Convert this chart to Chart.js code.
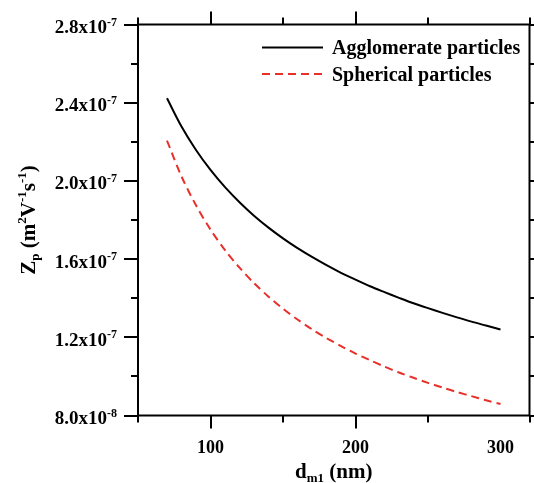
<!DOCTYPE html>
<html>
<head>
<meta charset="utf-8">
<script src="https://cdn.jsdelivr.net/npm/chart.js@4.4.1/dist/chart.umd.min.js"></script>
<style>
html,body{margin:0;padding:0;background:#fff;}
canvas{display:block;}
</style>
</head>
<body>
<canvas id="c" width="534" height="483"></canvas>
<script>
// Data
const diameters = [70,80,90,100,110,120,130,140,150,160,170,180,190,200,210,220,230,240,250,260,270,280,290,300];
const agglomerate = [2.4225,2.278,2.158,2.056,1.968,1.891,1.822,1.761,1.706,1.656,1.611,1.569,1.530,1.495,1.461,1.431,1.402,1.374,1.349,1.325,1.302,1.280,1.260,1.240].map(v=>v*1e-7);
const spherical = [2.206,2.023,1.875,1.751,1.646,1.556,1.477,1.408,1.346,1.291,1.241,1.196,1.155,1.117,1.083,1.050,1.020,0.993,0.967,0.943,0.920,0.899,0.878,0.859].map(v=>v*1e-7);
const seriesNames = ['Agglomerate particles','Spherical particles'];
const xMajorLabels = [100,200,300];
const yRange = [8e-8, 2.8e-7];
const xRange = [50, 320];

const SERIF = '"Liberation Serif","Times New Roman",Times,serif';

const framePlugin = {
  id:'frame',
  afterDraw(chart){
    const ctx = chart.ctx, a = chart.chartArea;
    const xs = chart.scales.x, ys = chart.scales.y;
    ctx.save();
    ctx.strokeStyle = '#000'; ctx.lineWidth = 2; ctx.lineCap='butt';
    ctx.strokeRect(a.left, a.top, a.right - a.left, a.bottom - a.top);
    // x ticks
    ctx.beginPath();
    xs.ticks.forEach(t=>{
      const v = Math.round(t.value);
      const px = Math.round(xs.getPixelForValue(v));
      const len = (v % 100 === 0) ? 13 : 7;
      ctx.moveTo(px, a.bottom); ctx.lineTo(px, a.bottom + len);
      ctx.moveTo(px, a.top); ctx.lineTo(px, a.top - len);
    });
    // y ticks
    ys.ticks.forEach(t=>{
      const n = Math.round(t.value/1e-8);
      const py = Math.round(ys.getPixelForValue(t.value));
      const len = ((n-8) % 4 === 0) ? 14 : 7;
      ctx.moveTo(a.left - len, py); ctx.lineTo(a.left, py);
      ctx.moveTo(a.right, py); ctx.lineTo(a.right + len, py);
    });
    ctx.stroke();

    ctx.fillStyle = '#000';
    // x labels
    ctx.font = 'bold 18px ' + SERIF;
    ctx.textAlign = 'center'; ctx.textBaseline = 'alphabetic';
    xMajorLabels.forEach(v=>{
      ctx.fillText(String(v), xs.getPixelForValue(v), a.bottom + 37);
    });
    // y labels
    ys.ticks.forEach(t=>{
      const n = Math.round(t.value/1e-8);
      if ((n-8) % 4 !== 0) return;
      const py = ys.getPixelForValue(t.value);
      const exp = Math.floor(Math.log10(t.value) + 1e-9);
      const man = (t.value / Math.pow(10, exp)).toFixed(1);
      const base = man + 'x10';
      const sup = String(exp);
      ctx.font = 'bold 12px ' + SERIF;
      const ws = ctx.measureText(sup).width;
      const right = a.left - 21;
      ctx.textAlign = 'left';
      ctx.fillText(sup, right - ws, py + 1);
      ctx.font = 'bold 19px ' + SERIF;
      const wb = ctx.measureText(base).width;
      ctx.fillText(base, right - ws - wb, py + 8.5);
    });

    // x title: d_m1 (nm)
    {
      const parts = [['d',21,0],['m1',13,4],[' (nm)',21,0]];
      let total = 0;
      parts.forEach(p=>{ctx.font='bold '+p[1]+'px '+SERIF; total += ctx.measureText(p[0]).width;});
      let x = (a.left + a.right)/2 - total/2;
      const by = 477.5;
      ctx.textAlign='left';
      parts.forEach(p=>{ctx.font='bold '+p[1]+'px '+SERIF; ctx.fillText(p[0], x, by + p[2]); x += ctx.measureText(p[0]).width;});
    }
    // y title: Z_p (m^2 V^-1 s^-1)
    {
      const parts = [['Z',21,0],['p',13,4],[' (m',21,0],['2',13,-9],['V',21,0],['-1',13,-9],['s',21,0],['-1',13,-9],[')',21,0]];
      let total = 0;
      parts.forEach(p=>{ctx.font='bold '+p[1]+'px '+SERIF; total += ctx.measureText(p[0]).width;});
      ctx.save();
      ctx.translate(35, (a.top + a.bottom)/2);
      ctx.rotate(-Math.PI/2);
      let x = -total/2;
      ctx.textAlign='left';
      parts.forEach(p=>{ctx.font='bold '+p[1]+'px '+SERIF; ctx.fillText(p[0], x, p[2]); x += ctx.measureText(p[0]).width;});
      ctx.restore();
    }
    // legend
    const ds = chart.data.datasets;
    const rows = [47.5, 74];
    ds.forEach((d,i)=>{
      ctx.beginPath();
      ctx.strokeStyle = d.borderColor; ctx.lineWidth = 2;
      ctx.setLineDash(d.borderDash || []);
      ctx.moveTo(262, rows[i]); ctx.lineTo(323, rows[i]);
      ctx.stroke();
      ctx.setLineDash([]);
      ctx.font = 'bold 20px ' + SERIF;
      ctx.textAlign='left'; ctx.textBaseline='alphabetic';
      ctx.fillText(d.label, 332, rows[i] + 6.5);
    });
    ctx.restore();
  }
};

new Chart(document.getElementById('c'), {
  type:'line',
  data:{
    datasets:[
      {label:seriesNames[0], data:diameters.map((d,i)=>({x:d,y:agglomerate[i]})), borderColor:'#000000', borderWidth:2, pointRadius:0, fill:false, tension:0.3},
      {label:seriesNames[1], data:diameters.map((d,i)=>({x:d,y:spherical[i]})), borderColor:'#e8302a', borderWidth:2, borderDash:[8,5], pointRadius:0, fill:false, tension:0.3}
    ]
  },
  options:{
    responsive:false, animation:false, devicePixelRatio:1,
    layout:{padding:{left:138, right:4.5, top:24.5, bottom:67.5}},
    plugins:{legend:{display:false}, tooltip:{enabled:false}},
    scales:{
      x:{type:'linear', min:xRange[0], max:xRange[1], ticks:{display:false, stepSize:50}, grid:{display:false}, border:{display:false}, afterFit(s){s.height=0;}},
      y:{type:'linear', min:yRange[0], max:yRange[1], ticks:{display:false, stepSize:2e-8}, grid:{display:false}, border:{display:false}, afterFit(s){s.width=0;}}
    }
  },
  plugins:[framePlugin]
});
</script>
</body>
</html>
